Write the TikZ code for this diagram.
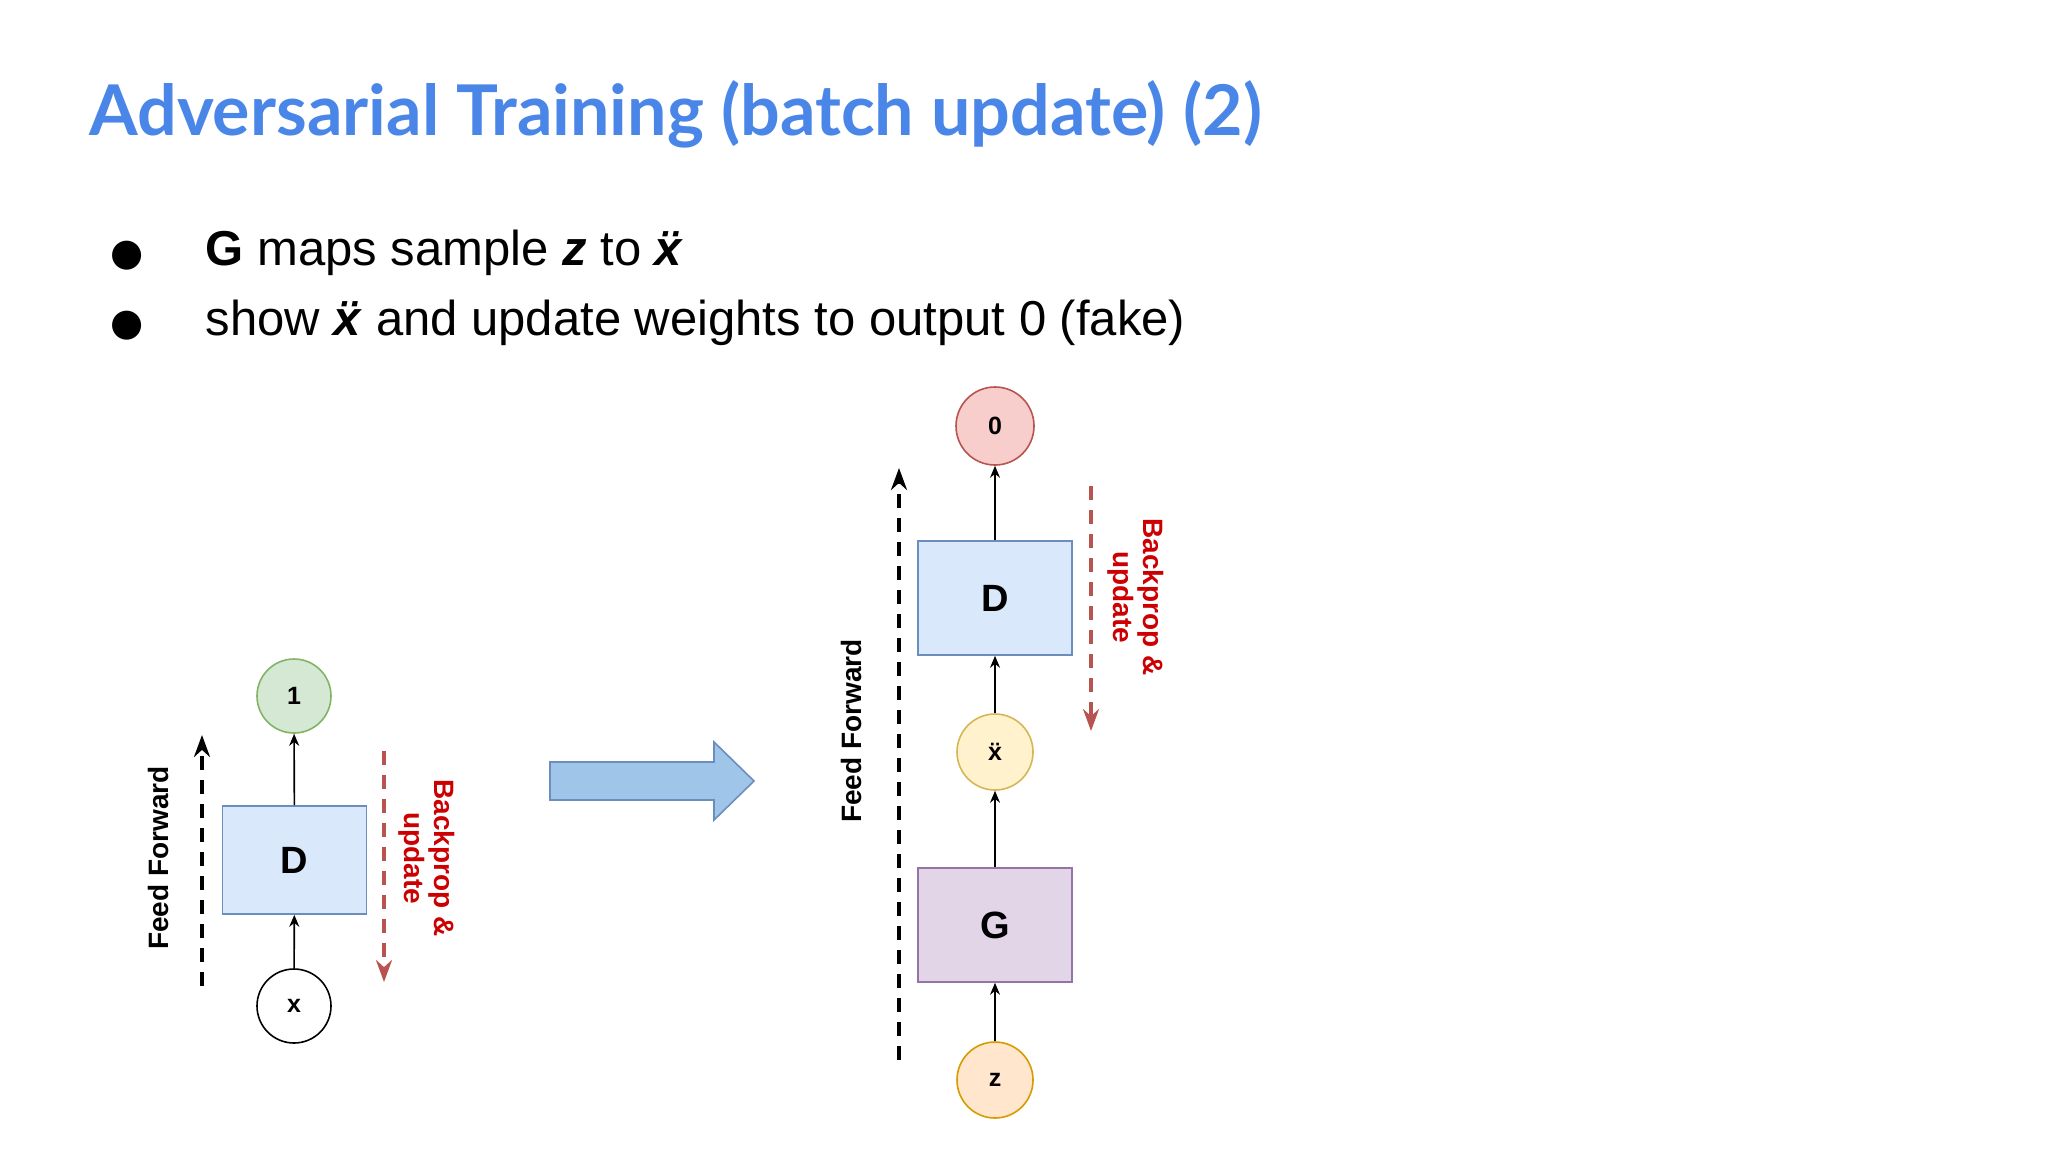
\documentclass[tikz,border=0pt]{standalone}
\usepackage{fontspec}
\setmainfont{Liberation Sans}
\newfontfamily\titlefont{Lato}
\newfontfamily\symfont{DejaVu Sans}
\usetikzlibrary{arrows.meta}
\definecolor{titleblue}{HTML}{4A86E8}
\definecolor{bpred}{HTML}{CC0000}
\definecolor{bparrow}{HTML}{B85450}
\definecolor{dfill}{HTML}{DAE8FC}\definecolor{dline}{HTML}{6C8EBF}
\definecolor{gfill}{HTML}{E1D5E7}\definecolor{gline}{HTML}{9673A6}
\definecolor{onefill}{HTML}{D5E8D4}\definecolor{oneline}{HTML}{82B366}
\definecolor{zerofill}{HTML}{F8CECC}
\definecolor{xfill}{HTML}{FFF2CC}\definecolor{xline}{HTML}{D6B656}
\definecolor{zfill}{HTML}{FFE6CC}\definecolor{zline}{HTML}{D79B00}
\definecolor{bigfill}{HTML}{9FC5E8}
\tikzset{
  circ/.style={circle,draw,line width=0.8pt,minimum size=#1,inner sep=0pt,font=\fontsize{12.5}{12.5}\selectfont\bfseries},
  box/.style={draw,line width=0.8pt,minimum width=77pt,minimum height=57pt,inner sep=0pt,font=\fontsize{19}{19}\selectfont\bfseries},
  conn/.style={-{Stealth[length=6pt,width=5pt]},line width=0.8pt},
  ff/.style={-{Stealth[length=11pt,width=8pt]},line width=1.8pt,dash pattern=on 7pt off 5pt},
  bp/.style={-{Stealth[length=11pt,width=8pt]},line width=1.8pt,dash pattern=on 7pt off 5pt,draw=bparrow},
  fflab/.style={rotate=90,font=\fontsize{14}{15}\selectfont\bfseries},
  bplab/.style={rotate=-90,align=center,text=bpred,font=\fontsize{14}{15}\selectfont\bfseries}
}
\begin{document}
\begin{tikzpicture}[x=0.5pt,y=-0.5pt]
\useasboundingbox[fill=white] (0,0) rectangle (2048,1152);
\node[anchor=west,text=titleblue,font=\titlefont\fontsize{35}{35}\selectfont\bfseries,inner sep=0pt] (title) at (89,114) {Adversarial Training (batch update) (2)};
\node[anchor=base west,font=\fontsize{24.5}{26}\selectfont,inner sep=0pt] (b1) at (110,265) {{\symfont\fontsize{19}{20}\selectfont ●}\hspace{31pt}\textbf{G} maps sample \textbf{\textit{z}} to \textbf{\textit{ẍ}}};
\node[anchor=base west,font=\fontsize{24.5}{26}\selectfont,inner sep=0pt] (b2) at (110,335) {{\symfont\fontsize{19}{20}\selectfont ●}\hspace{31pt}show \textbf{\textit{ẍ}} and update weights to output 0 (fake)};
% left
\node[circ=74pt/2,fill=onefill,draw=oneline] (one) at (294,696) {1};
\node[box,fill=dfill,draw=dline,minimum width=72pt,minimum height=54pt] (dl) at (294.5,860) {D};
\node[circ=74pt/2,fill=white,draw=black] (x) at (294,1006) {x};
\draw[conn] (x) -- (dl);
\draw[conn] (dl) -- (one);
\coordinate (ffl1) at (202,986); \coordinate (ffl2) at (202,735);
\draw[ff] (ffl1) -- (ffl2);
\node[fflab] (ffll) at (158,858) {Feed Forward};
\coordinate (bpl1) at (384,751); \coordinate (bpl2) at (384,982);
\draw[bp] (bpl1) -- (bpl2);
\node[bplab] (bpll) at (427,858) {Backprop \&\\update};
% big arrow
\draw[fill=bigfill,draw=dline,line width=0.8pt] (550,762) -- (714,762) -- (714,742) -- (754,781) -- (714,820) -- (714,800) -- (550,800) -- cycle;
% right
\node[circ=78pt/2,fill=zerofill,draw=bparrow] (zero) at (995,426) {0};
\node[box,fill=dfill,draw=dline] (dr) at (995,598) {D};
\node[circ=76pt/2,fill=xfill,draw=xline] (xh) at (995,752) {ẍ};
\node[box,fill=gfill,draw=gline] (g) at (995,925) {G};
\node[circ=76pt/2,fill=zfill,draw=zline] (z) at (995,1080) {z};
\draw[conn] (z) -- (g);
\draw[conn] (g) -- (xh);
\draw[conn] (xh) -- (dr);
\draw[conn] (dr) -- (zero);
\coordinate (ffr1) at (899,1060); \coordinate (ffr2) at (899,468);
\draw[ff] (ffr1) -- (ffr2);
\node[fflab] (ffrl) at (851,731) {Feed Forward};
\coordinate (bpr1) at (1091,486); \coordinate (bpr2) at (1091,731);
\draw[bp] (bpr1) -- (bpr2);
\node[bplab] (bprl) at (1136,597) {Backprop \&\\update};
\end{tikzpicture}
\end{document}
